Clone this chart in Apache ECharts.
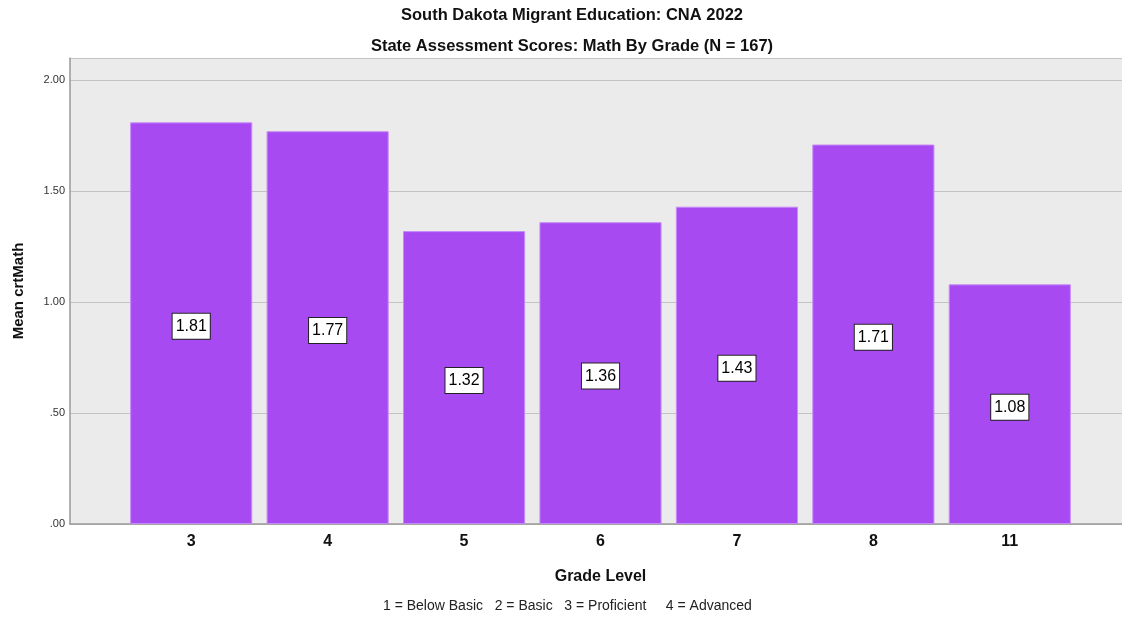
<!DOCTYPE html>
<html>
<head>
<meta charset="utf-8">
<script src="https://cdn.jsdelivr.net/npm/echarts@6/dist/echarts.min.js"></script>
<style>
  html, body { margin: 0; padding: 0; background: #fff; }
  #chart { width: 1122px; height: 617px; }
</style>
</head>
<body>
<div id="chart"></div>
<script>
// grade levels and mean math score
var grades = ['3', '4', '5', '6', '7', '8', '11'];
var meanMath = [1.81, 1.77, 1.32, 1.36, 1.43, 1.71, 1.08];
var yTicks = [0, 0.5, 1.0, 1.5, 2.0];

var fontFam = 'Liberation Sans, Arial, sans-serif';

var myChart = echarts.init(document.getElementById('chart'));
myChart.setOption({
    animation: false,
    textStyle: { fontFamily: fontFam },
    title: [{
        text: 'South Dakota Migrant Education: CNA 2022',
        left: 567, top: 2, textAlign: 'center',
        textStyle: { fontSize: 16.5, fontWeight: 'bold', color: '#111' }
    }, {
        text: 'State Assessment Scores: Math By Grade (N = 167)',
        left: 567, top: 33, textAlign: 'center',
        textStyle: { fontSize: 16.5, fontWeight: 'bold', color: '#111' }
    }],
    graphic: [{
        type: 'text',
        left: 383, top: 599,
        style: {
            text: '1 = Below Basic   2 = Basic   3 = Proficient     4 = Advanced',
            fontSize: 14, fill: '#222', fontFamily: fontFam
        }
    }],
    grid: [
        // background + value axis, full width
        { left: 70, right: 0, top: 58, bottom: 93, show: true, backgroundColor: '#ebebeb', borderWidth: 0 },
        // bars, inset like the SPSS category axis
        { left: 123, right: 44, top: 58, bottom: 93 }
    ],
    xAxis: [{
        gridIndex: 0, type: 'value', min: 0, max: 1,
        axisLine: { show: true, lineStyle: { color: '#999', width: 1.5 } },
        axisTick: { show: false }, axisLabel: { show: false }, splitLine: { show: false }
    }, {
        gridIndex: 1, type: 'category', data: grades,
        name: 'Grade Level', nameLocation: 'middle', nameGap: 45,
        nameTextStyle: { fontSize: 16, fontWeight: 'bold', color: '#111' },
        axisLine: { show: false }, axisTick: { show: false },
        axisLabel: { fontSize: 16, fontWeight: 'bold', color: '#111', margin: 10 }
    }],
    yAxis: [{
        gridIndex: 0, type: 'value', min: 0, max: 2.1, interval: 0.5,
        name: 'Mean crtMath', nameLocation: 'middle', nameGap: 44,
        nameTextStyle: { fontSize: 15, fontWeight: 'bold', color: '#111' },
        axisLine: { show: true, lineStyle: { color: '#999', width: 1.5 } },
        axisTick: { show: false },
        axisLabel: {
            fontSize: 11, color: '#333', margin: 5,
            showMaxLabel: false,
            formatter: function (v) {
                if (yTicks.indexOf(v) < 0) return '';
                var s = v.toFixed(2);
                return v < 1 ? s.replace(/^0/, '') : s;
            }
        },
        splitLine: { show: true, lineStyle: { color: '#c4c4c4', width: 1 } }
    }, {
        gridIndex: 1, type: 'value', min: 0, max: 2.1, show: false
    }],
    series: [{
        type: 'bar',
        xAxisIndex: 1, yAxisIndex: 1,
        data: meanMath,
        barCategoryGap: '10.5%',
        itemStyle: { color: '#a84af2', borderColor: '#c58af7', borderWidth: 1 },
        label: {
            show: true, position: 'inside', offset: [0, 3],
            formatter: function (p) { return p.value.toFixed(2); },
            fontSize: 16, color: '#000',
            backgroundColor: '#fff', borderColor: '#222', borderWidth: 1,
            padding: [5, 3, 4, 3]
        }
    }]
});
</script>
</body>
</html>
